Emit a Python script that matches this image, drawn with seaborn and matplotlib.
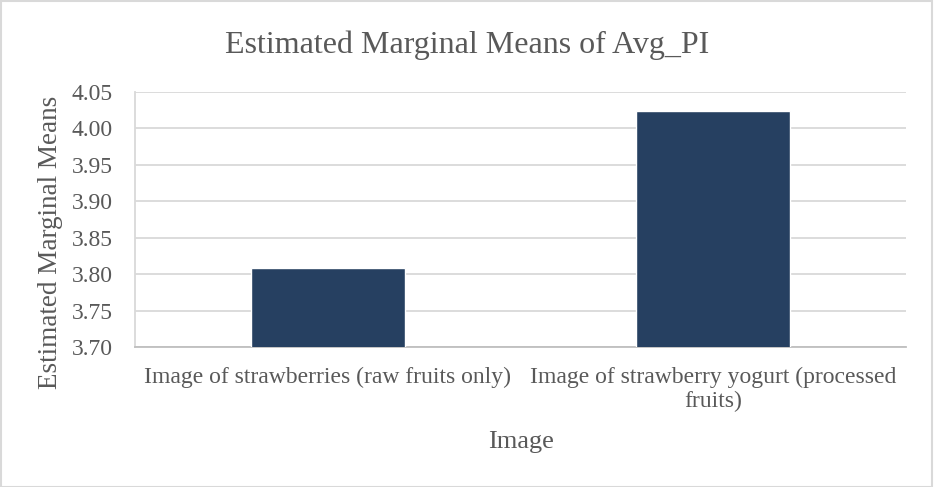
import matplotlib
matplotlib.use("Agg")
import matplotlib.pyplot as plt
import seaborn as sns
import pandas as pd

categories = ["Image of strawberries (raw fruits only)",
              "Image of strawberry yogurt (processed\nfruits)"]
means = [3.808, 4.024]
yticks = [3.70, 3.75, 3.80, 3.85, 3.90, 3.95, 4.00, 4.05]

df = pd.DataFrame({"Image": categories, "Mean": means})

sns.set_theme(style="white")
plt.rcParams["font.family"] = ["Liberation Serif", "DejaVu Serif"]
text_color = "#595959"

W, H = 934, 487
fig = plt.figure(figsize=(W / 100, H / 100), dpi=100)
ax = fig.add_axes([135 / W, 1 - 347 / H, (906 - 135) / W, (347 - 92) / H])

sns.barplot(data=df, x="Image", y="Mean", color="#264061", width=0.4,
            saturation=1, ax=ax, zorder=3)

ax.set_ylim(3.70, 4.05)
ax.set_yticks(yticks)
ax.set_yticklabels([f"{v:.2f}" for v in yticks], fontsize=17, color=text_color)
ax.set_xticks(range(len(categories)))
ax.set_xticklabels(categories, fontsize=17, color=text_color, linespacing=1.2)
ax.tick_params(axis="x", length=0, pad=14)
ax.tick_params(axis="y", length=0, pad=16)
ax.yaxis.grid(True, color="#d9d9d9", linewidth=1.3, zorder=0)
ax.set_axisbelow(True)

for side in ["top", "right"]:
    ax.spines[side].set_visible(False)
ax.spines["left"].set_color("#d9d9d9")
ax.spines["left"].set_linewidth(1.3)
ax.spines["bottom"].set_color("#bfbfbf")
ax.spines["bottom"].set_linewidth(1.3)

ax.set_xlabel("")
ax.set_ylabel("")
fig.text(521 / W, 1 - 442 / H, "Image", ha="center", va="center",
         fontsize=19, color=text_color)
fig.text(51 / W, 1 - 242 / H, "Estimated Marginal Means", ha="center", va="center",
         rotation=90, fontsize=19.5, color=text_color)
fig.text(0.5, 1 - 45 / H, "Estimated Marginal Means of Avg_PI",
         ha="center", va="center", fontsize=23, color=text_color)

# light frame around the chart area
fig.patches.append(plt.Rectangle((0.001, 0.001), 0.997, 0.997, transform=fig.transFigure,
                                 fill=False, edgecolor="#d9d9d9", linewidth=1.5))

fig.savefig("out.png", dpi=100)
